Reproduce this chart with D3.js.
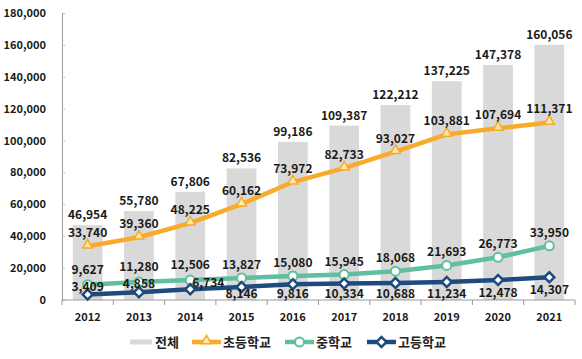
<!DOCTYPE html>
<html>
<head>
<meta charset="utf-8">
<script src="https://cdn.jsdelivr.net/npm/d3@7"></script>
<style>
  body { margin: 0; background: #fff; }
  svg text { font-family: "Noto Sans CJK KR", "Noto Sans", sans-serif; }
</style>
</head>
<body>
<svg id="chart" width="582" height="359"></svg>
<script>
var years = ["2012","2013","2014","2015","2016","2017","2018","2019","2020","2021"];
var total = [46954, 55780, 67806, 82536, 99186, 109387, 122212, 137225, 147378, 160056];
var elementary = [33740, 39360, 48225, 60162, 73972, 82733, 93027, 103881, 107694, 111371];
var middle = [9627, 11280, 12506, 13827, 15080, 15945, 18068, 21693, 26773, 33950];
var high = [3409, 4858, 6734, 8146, 9816, 10334, 10688, 11234, 12478, 14307];
var yTicks = [0, 20000, 40000, 60000, 80000, 100000, 120000, 140000, 160000, 180000];

var grey = "#d9d9d9", orange = "#f8ab2a", teal = "#5fbf9f", navy = "#1f4a7e";

var svg = d3.select("#chart");
var x = d3.scaleBand().domain(years).range([62, 575]).paddingInner(0.42).paddingOuter(0.21);
var y = d3.scaleLinear().domain([0, 180000]).range([300, 13]);
var fmt = d3.format(",");

// y axis
var yAxis = svg.append("g").attr("transform", "translate(62,0)")
    .call(d3.axisRight(y).tickValues(yTicks).tickSize(3).tickFormat(""));
yAxis.select(".domain").attr("stroke", "#9a9a9a");
yAxis.selectAll(".tick line").attr("stroke", "#bbb");
svg.append("g").selectAll("text").data(yTicks).enter().append("text")
    .attr("x", 46).attr("y", function(d) { return y(d) + 4; })
    .attr("text-anchor", "end")
    .style("font-size", "11px").style("font-weight", 700).style("fill", "#1a1a1a")
    .text(function(d) { return fmt(d); });

// bars
svg.append("g").selectAll("rect").data(years).enter().append("rect")
    .attr("x", function(d) { return x(d); })
    .attr("y", function(d, i) { return y(total[i]); })
    .attr("width", x.bandwidth())
    .attr("height", function(d, i) { return y(0) - y(total[i]); })
    .attr("fill", grey);

// x axis
var step = x.step();
var xAxis = svg.append("g").attr("transform", "translate(0,300)");
xAxis.append("line").attr("x1", 62).attr("x2", 575).attr("stroke", "#9a9a9a");
xAxis.selectAll("line.t").data(d3.range(years.length + 1)).enter().append("line")
    .attr("class", "t")
    .attr("x1", function(i) { return 62 + i * step; })
    .attr("x2", function(i) { return 62 + i * step; })
    .attr("y1", 0).attr("y2", 5).attr("stroke", "#9a9a9a");
xAxis.selectAll("text").data(years).enter().append("text")
    .attr("x", function(d) { return x(d) + x.bandwidth() / 2; })
    .attr("y", 21)
    .attr("text-anchor", "middle")
    .style("font-size", "11px").style("font-weight", 700).style("fill", "#1a1a1a")
    .text(function(d) { return d; });

function cx(i) { return x(years[i]) + x.bandwidth() / 2; }

// lines
var line = d3.line().x(function(d, i) { return cx(i); }).y(function(d) { return y(d); });
[[elementary, orange], [middle, teal], [high, navy]].forEach(function(s) {
    svg.append("path").datum(s[0]).attr("d", line)
        .attr("fill", "none").attr("stroke", s[1]).attr("stroke-width", 4.5)
        .attr("stroke-linejoin", "round");
});

// markers
function marker(g, type, color, px, py) {
    if (type === "tri") {
        g.append("path").attr("d", d3.symbol(d3.symbolTriangle, 42)())
            .attr("transform", "translate(" + px + "," + (py - 1) + ")")
            .attr("fill", "#fde9a8").attr("stroke", color).attr("stroke-width", 1.5);
    } else if (type === "circle") {
        g.append("circle").attr("cx", px).attr("cy", py).attr("r", 4.5)
            .attr("fill", "#fff").attr("stroke", color).attr("stroke-width", 2);
    } else {
        g.append("path").attr("d", d3.symbol(d3.symbolSquare, 50)())
            .attr("transform", "translate(" + px + "," + py + ") rotate(45)")
            .attr("fill", "#fff").attr("stroke", color).attr("stroke-width", 2.5);
    }
}
var mk = svg.append("g");
elementary.forEach(function(v, i) { marker(mk, "tri", orange, cx(i), y(v)); });
middle.forEach(function(v, i) { marker(mk, "circle", teal, cx(i), y(v)); });
high.forEach(function(v, i) { marker(mk, "diamond", navy, cx(i), y(v)); });

// labels
var lab = svg.append("g").style("font-size", "12px").style("font-weight", 700).style("fill", "#1a1a1a");
function label(px, py, v) {
    lab.append("text").attr("x", px).attr("y", py).attr("text-anchor", "middle").text(fmt(v));
}
total.forEach(function(v, i) { label(cx(i), y(v) - 6, v); });
elementary.forEach(function(v, i) { label(cx(i), y(v) - 9, v); });
middle.forEach(function(v, i) { label(cx(i), y(v) - (i < 3 ? 11 : 9), v); });
high.forEach(function(v, i) {
    if (i < 2) label(cx(i), y(v) - 4, v);
    else if (i === 2) label(cx(i) + 18, y(v) - 2, v);
    else label(cx(i), Math.min(y(v) + 17, 298), v);
});

// legend
var lg = svg.append("g").attr("transform", "translate(0,342)");
lg.append("rect").attr("x", 130).attr("y", -2.5).attr("width", 22).attr("height", 5).attr("fill", grey);
lg.append("text").attr("x", 155).attr("y", 5).text("전체");
var items = [[192, orange, "tri", "초등학교"], [285, teal, "circle", "중학교"], [367, navy, "diamond", "고등학교"]];
items.forEach(function(it) {
    lg.append("line").attr("x1", it[0]).attr("x2", it[0] + 29).attr("stroke", it[1]).attr("stroke-width", 4.5);
    marker(lg, it[2], it[1], it[0] + 14.5, 0);
    lg.append("text").attr("x", it[0] + 31).attr("y", 5).text(it[3]);
});
lg.selectAll("text").style("font-size", "13px").style("font-weight", 700).style("fill", "#222");
</script>
</body>
</html>
